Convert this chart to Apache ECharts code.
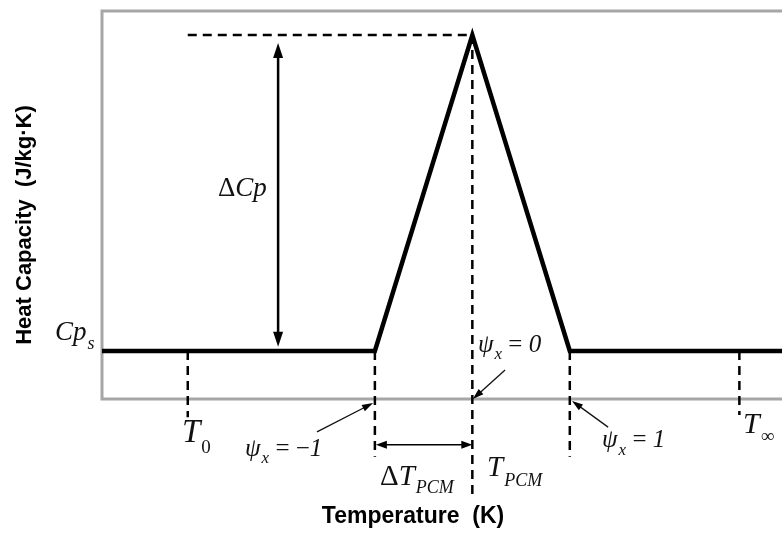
<!DOCTYPE html>
<html><head><meta charset="utf-8">
<script src="https://cdn.jsdelivr.net/npm/echarts@6/dist/echarts.min.js"></script>
<style>html,body{margin:0;padding:0;background:#fff}#c{width:782px;height:534px}</style>
</head><body><div id="c"></div>
<script>
// Schematic units: x in ΔT_PCM units centred on T_PCM, y in Cp_s units
const tempX = [-3.8, -1, 0, 1, 3.28];
const heatCp = [1, 1, 2, 1, 1];

// Vertical dashed guides: T0, start of melting, T_PCM, end of melting, T_inf
const guideX = [-2.92, -1, 0, 1, 2.74];
const guideTop = [1, 1, 2, 1, 1];
const guideBottom = [0.79, 0.665, 0.544, 0.665, 0.797];
// Horizontal dashed guide at peak level
const peakGuideX = [-2.92, 0];
const peakGuideY = [2, 2];

// Double-headed arrows: ΔCp, ΔT_PCM
const dblX1 = [-1.993, -0.99];
const dblY1 = [1.975, 0.703];
const dblX2 = [-1.993, 0];
const dblY2 = [1.013, 0.703];

// Pointer arrows ψx = -1, 0, 1 (tail -> tip)
const ptrTailX = [-1.594, 0.336, 1.393];
const ptrTailY = [0.744, 0.94, 0.759];
const ptrTipX = [-1.019, 0.005, 1.023];
const ptrTipY = [0.835, 0.848, 0.842];

// Annotation labels: main text, subscript, trailing text
const labelMain = ['ΔCp', 'Cp', 'T', 'ψ', 'ΔT', 'T', 'ψ', 'ψ', 'T'];
const labelSub = ['', 's', '0', 'x', 'PCM', 'PCM', 'x', 'x', '∞'];
const labelTail = ['', '', '', ' = −1', '', '', ' = 0', ' = 1', ''];
const labelX = [-2.61, -4.282, -2.979, -2.332, -0.947, 0.151, 0.058, 1.331, 2.778];
const labelY = [1.513, 1.057, 0.739, 0.687, 0.601, 0.627, 1.019, 0.718, 0.766];

const xTitle = 'Temperature  (K)';
const yTitle = 'Heat Capacity  (J/kg·K)';

// ---- styles (not data) ----
const labelFont = [
  {F: 27, S: 18, off: 11},
  {F: 27, S: 18, off: 11},
  {F: 33, S: 19, off: 15},
  {F: 25, S: 17, off: 9},
  {F: 29, S: 18, off: 11},
  {F: 29, S: 18, off: 12},
  {F: 25, S: 17, off: 10},
  {F: 25, S: 17, off: 10},
  {F: 30, S: 19, off: 12}
];
const SERIF_NAME = '"Liberation Serif", "Times New Roman", serif';
const SANS = '"Liberation Sans", Arial, sans-serif';
const measureCtx = document.createElement('canvas').getContext('2d');
function textW(t, size, italic) {
  if (!t) return 0;
  measureCtx.font = (italic ? 'italic ' : '') + size + 'px ' + SERIF_NAME;
  return measureCtx.measureText(t).width;
}
// split a label into styled segments: [text, size, italic, dy]
function segments(i) {
  const f = labelFont[i];
  const segs = [];
  let m = labelMain[i];
  if (m.charAt(0) === 'Δ') { segs.push(['Δ', f.F, false, 0]); m = m.slice(1); }
  segs.push([m, f.F, true, 0]);
  const s = labelSub[i];
  if (s) segs.push([s, f.S, !/^[0-9∞]$/.test(s), f.off]);
  const t = labelTail[i];
  if (t) { segs.push([t.slice(0, -1), f.F, false, 0]); segs.push([t.slice(-1), f.F, true, 0]); }
  return segs;
}

function arrowHead(tip, from, len, wid) {
  const dx = tip[0] - from[0], dy = tip[1] - from[1];
  const d = Math.sqrt(dx * dx + dy * dy) || 1;
  const ux = dx / d, uy = dy / d;
  const bx = tip[0] - ux * len, by = tip[1] - uy * len;
  const px = -uy * wid / 2, py = ux * wid / 2;
  return [[tip[0], tip[1]], [bx + px, by + py], [bx - px, by - py]];
}
function shorten(p, q, len) {
  const dx = q[0] - p[0], dy = q[1] - p[1];
  const d = Math.sqrt(dx * dx + dy * dy) || 1;
  return [q[0] - dx / d * len, q[1] - dy / d * len];
}

const guideData = guideX.map((x, i) => [x, guideTop[i], x, guideBottom[i]]);
guideData.push([peakGuideX[0], peakGuideY[0], peakGuideX[1], peakGuideY[1]]);
const dblData = dblX1.map((x, i) => [x, dblY1[i], dblX2[i], dblY2[i]]);
const dblStyle = [{w: 2.5, len: 15, wid: 10}, {w: 1.6, len: 11, wid: 8}];
const ptrData = ptrTailX.map((x, i) => [x, ptrTailY[i], ptrTipX[i], ptrTipY[i]]);
const labelData = labelX.map((x, i) => [x, labelY[i], i]);

const chart = echarts.init(document.getElementById('c'), null, {renderer: 'canvas'});
chart.setOption({
  animation: false,
  backgroundColor: '#ffffff',
  grid: {left: 102, top: 11, width: 690, height: 388, show: true, borderColor: '#a6a6a6', borderWidth: 3,
    backgroundColor: 'transparent', outerBoundsMode: 'none', containLabel: false},
  xAxis: {
    type: 'value', min: -3.8, max: 3.28,
    axisLine: {show: false}, axisTick: {show: false}, axisLabel: {show: false}, splitLine: {show: false},
    name: xTitle, nameLocation: 'middle', nameGap: 106,
    nameTextStyle: {fontFamily: SANS, fontWeight: 'bold', fontSize: 23, color: '#000', padding: [0, 68, 0, 0]}
  },
  yAxis: {
    type: 'value', min: 0.848, max: 2.076,
    axisLine: {show: false}, axisTick: {show: false}, axisLabel: {show: false}, splitLine: {show: false},
    name: yTitle, nameLocation: 'middle', nameGap: 66,
    nameTextStyle: {fontFamily: SANS, fontWeight: 'bold', fontSize: 22, color: '#000', padding: [0, 40, 0, 0]}
  },
  series: [
    {
      type: 'custom', name: 'guides', clip: false, z: 3,
      data: guideData,
      renderItem: function (params, api) {
        const p1 = api.coord([api.value(0), api.value(1)]);
        const p2 = api.coord([api.value(2), api.value(3)]);
        return {type: 'line', shape: {x1: p1[0], y1: p1[1], x2: p2[0], y2: p2[1]},
          style: {stroke: '#000', lineWidth: 2.5, lineDash: [9, 6], lineCap: 'butt'}};
      }
    },
    {
      type: 'line', name: 'Heat capacity', data: tempX.map((x, i) => [x, heatCp[i]]),
      symbol: 'none', z: 5, clip: false,
      lineStyle: {color: '#000', width: 4.5, join: 'miter', cap: 'butt'}
    },
    {
      type: 'custom', name: 'dblArrows', clip: false, z: 4,
      data: dblData,
      renderItem: function (params, api) {
        const s = dblStyle[params.dataIndex];
        const p1 = api.coord([api.value(0), api.value(1)]);
        const p2 = api.coord([api.value(2), api.value(3)]);
        const a = shorten(p2, p1, s.len * 0.8);
        const b = shorten(p1, p2, s.len * 0.8);
        return {type: 'group', children: [
          {type: 'line', shape: {x1: a[0], y1: a[1], x2: b[0], y2: b[1]}, style: {stroke: '#000', lineWidth: s.w}},
          {type: 'polygon', shape: {points: arrowHead(p1, p2, s.len, s.wid)}, style: {fill: '#000'}},
          {type: 'polygon', shape: {points: arrowHead(p2, p1, s.len, s.wid)}, style: {fill: '#000'}}
        ]};
      }
    },
    {
      type: 'custom', name: 'ptrArrows', clip: false, z: 4,
      data: ptrData,
      renderItem: function (params, api) {
        const p1 = api.coord([api.value(0), api.value(1)]);
        const p2 = api.coord([api.value(2), api.value(3)]);
        const b = shorten(p1, p2, 8);
        return {type: 'group', children: [
          {type: 'line', shape: {x1: p1[0], y1: p1[1], x2: b[0], y2: b[1]}, style: {stroke: '#111', lineWidth: 1.3}},
          {type: 'polygon', shape: {points: arrowHead(p2, p1, 11, 7)}, style: {fill: '#000'}}
        ]};
      }
    },
    {
      type: 'custom', name: 'labels', clip: false, z: 6,
      data: labelData,
      renderItem: function (params, api) {
        const i = api.value(2);
        const p = api.coord([api.value(0), api.value(1)]);
        const kids = [];
        let x = p[0];
        segments(i).forEach(function (sg, k) {
          if (k > 0 && sg[3] !== 0) x += 1;
          kids.push({type: 'text', x: x, y: p[1] + sg[3], style: {
            text: sg[0], fontSize: sg[1], fontFamily: SERIF_NAME, fontStyle: sg[2] ? 'italic' : 'normal',
            fill: '#111', align: 'left', verticalAlign: 'middle'}});
          x += textW(sg[0], sg[1], sg[2]);
        });
        return {type: 'group', children: kids};
      }
    }
  ]
});
</script>
</body></html>
